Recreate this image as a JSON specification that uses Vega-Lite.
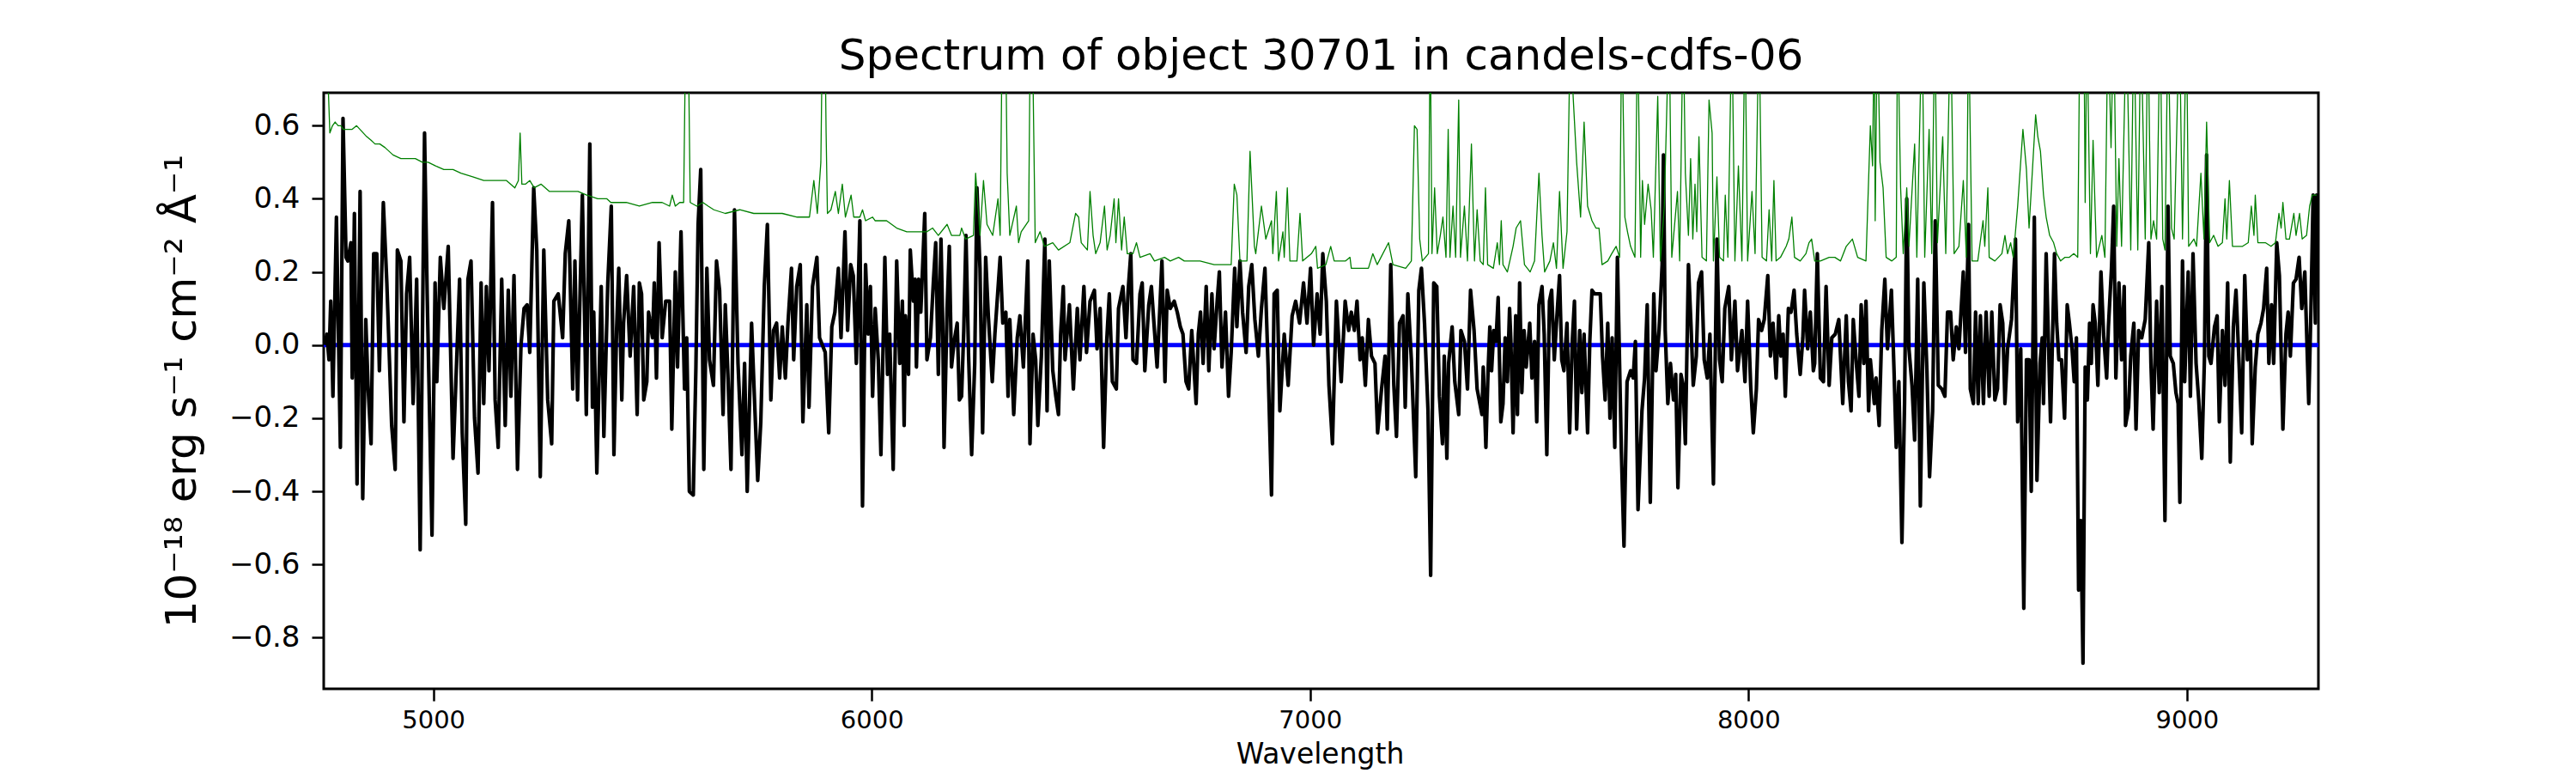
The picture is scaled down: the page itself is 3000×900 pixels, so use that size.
{
  "$schema": "https://vega.github.io/schema/vega-lite/v6.json",
  "width": 2323,
  "height": 694,
  "autosize": {"type": "none"},
  "padding": {"left": 377, "top": 108, "right": 300, "bottom": 98},
  "background": "white",
  "title": {
    "text": "Spectrum of object 30701 in candels-cdfs-06",
    "fontSize": 50,
    "font": "DejaVu Sans",
    "fontWeight": "normal",
    "color": "black",
    "anchor": "middle",
    "baseline": "alphabetic",
    "offset": 25,
    "dy": 48
  },
  "datasets": {
    "model": [{"w": 4750, "f": 0}, {"w": 9300, "f": 0}],
    "flux": [
      {"w":4753,"f":0.00},{"w":4757,"f":0.03},{"w":4762,"f":-0.04},{"w":4766,"f":0.12},{"w":4771,"f":-0.14},{"w":4779,"f":0.35},{"w":4788,"f":-0.28},{"w":4794,"f":0.62},{"w":4801,"f":0.24},{"w":4805,"f":0.23},{"w":4812,"f":0.28},{"w":4815,"f":-0.09},{"w":4820,"f":0.36},{"w":4826,"f":-0.38},{"w":4833,"f":0.42},{"w":4839,"f":-0.42},{"w":4846,"f":0.07},{"w":4851,"f":-0.11},{"w":4858,"f":-0.27},{"w":4864,"f":0.25},{"w":4871,"f":0.25},{"w":4877,"f":-0.07},{"w":4886,"f":0.39},{"w":4894,"f":0.17},{"w":4905,"f":-0.22},{"w":4913,"f":-0.34},{"w":4918,"f":0.26},{"w":4926,"f":0.23},{"w":4933,"f":-0.21},{"w":4939,"f":0.14},{"w":4946,"f":0.24},{"w":4954,"f":-0.16},{"w":4962,"f":0.18},{"w":4970,"f":-0.56},{"w":4980,"f":0.58},{"w":4986,"f":0.14},{"w":4997,"f":-0.52},{"w":5004,"f":0.17},{"w":5008,"f":-0.10},{"w":5016,"f":0.24},{"w":5024,"f":0.10},{"w":5034,"f":0.27},{"w":5045,"f":-0.31},{"w":5053,"f":-0.05},{"w":5060,"f":0.18},{"w":5066,"f":-0.24},{"w":5074,"f":-0.49},{"w":5079,"f":0.18},{"w":5086,"f":0.23},{"w":5094,"f":-0.20},{"w":5102,"f":-0.35},{"w":5109,"f":0.17},{"w":5115,"f":-0.16},{"w":5121,"f":0.16},{"w":5127,"f":-0.07},{"w":5135,"f":0.39},{"w":5141,"f":-0.15},{"w":5148,"f":-0.28},{"w":5156,"f":0.18},{"w":5164,"f":-0.22},{"w":5171,"f":0.15},{"w":5177,"f":-0.14},{"w":5184,"f":0.19},{"w":5192,"f":-0.34},{"w":5200,"f":0.00},{"w":5207,"f":0.10},{"w":5214,"f":0.11},{"w":5220,"f":-0.02},{"w":5229,"f":0.43},{"w":5236,"f":0.26},{"w":5244,"f":-0.36},{"w":5252,"f":0.26},{"w":5261,"f":-0.15},{"w":5270,"f":-0.27},{"w":5275,"f":0.12},{"w":5285,"f":0.14},{"w":5295,"f":0.02},{"w":5301,"f":0.25},{"w":5309,"f":0.34},{"w":5318,"f":-0.12},{"w":5323,"f":0.23},{"w":5329,"f":-0.15},{"w":5340,"f":0.41},{"w":5349,"f":-0.19},{"w":5357,"f":0.55},{"w":5363,"f":-0.17},{"w":5366,"f":0.09},{"w":5373,"f":-0.35},{"w":5383,"f":0.16},{"w":5389,"f":-0.25},{"w":5398,"f":0.17},{"w":5406,"f":0.38},{"w":5412,"f":-0.30},
      {"w":5418,"f":0.04},{"w":5423,"f":0.21},{"w":5430,"f":-0.15},{"w":5434,"f":0.06},{"w":5441,"f":0.19},{"w":5449,"f":-0.03},{"w":5457,"f":0.16},{"w":5465,"f":-0.19},{"w":5470,"f":0.17},{"w":5475,"f":0.14},{"w":5480,"f":-0.15},{"w":5487,"f":-0.10},{"w":5491,"f":0.09},{"w":5500,"f":0.02},{"w":5504,"f":0.17},{"w":5509,"f":-0.09},{"w":5515,"f":0.28},{"w":5522,"f":0.02},{"w":5530,"f":0.12},{"w":5539,"f":0.12},{"w":5544,"f":-0.23},{"w":5552,"f":0.20},{"w":5557,"f":-0.06},{"w":5565,"f":0.31},{"w":5573,"f":-0.12},{"w":5578,"f":0.02},{"w":5584,"f":-0.40},{"w":5593,"f":-0.41},{"w":5599,"f":-0.06},{"w":5604,"f":0.33},{"w":5610,"f":0.48},{"w":5617,"f":-0.34},{"w":5624,"f":0.21},{"w":5630,"f":-0.04},{"w":5639,"f":-0.11},{"w":5646,"f":0.23},{"w":5653,"f":0.15},{"w":5661,"f":-0.19},{"w":5666,"f":0.11},{"w":5672,"f":-0.08},{"w":5679,"f":-0.34},{"w":5687,"f":0.37},{"w":5695,"f":-0.05},{"w":5704,"f":-0.30},{"w":5710,"f":-0.05},{"w":5716,"f":-0.40},{"w":5726,"f":0.06},{"w":5733,"f":-0.16},{"w":5740,"f":-0.37},{"w":5747,"f":-0.21},{"w":5755,"f":0.16},{"w":5762,"f":0.33},{"w":5770,"f":-0.15},{"w":5776,"f":0.04},{"w":5783,"f":0.06},{"w":5790,"f":-0.09},{"w":5796,"f":0.05},{"w":5803,"f":-0.09},{"w":5809,"f":0.06},{"w":5817,"f":0.21},{"w":5822,"f":-0.04},{"w":5829,"f":0.16},{"w":5837,"f":0.22},{"w":5843,"f":-0.21},{"w":5852,"f":0.11},{"w":5857,"f":-0.17},{"w":5865,"f":0.16},{"w":5875,"f":0.24},{"w":5881,"f":0.02},{"w":5894,"f":-0.02},{"w":5902,"f":-0.24},{"w":5909,"f":0.05},{"w":5916,"f":0.09},{"w":5924,"f":0.21},{"w":5930,"f":0.02},{"w":5939,"f":0.31},{"w":5945,"f":0.04},{"w":5952,"f":0.22},{"w":5958,"f":0.19},{"w":5965,"f":-0.05},{"w":5973,"f":0.34},{"w":5979,"f":-0.44},{"w":5986,"f":0.22},{"w":5992,"f":0.03},{"w":5997,"f":0.16},{"w":6002,"f":-0.14},{"w":6008,"f":0.10},{"w":6015,"f":-0.04},{"w":6021,"f":-0.30},{"w":6030,"f":0.24},{"w":6036,"f":-0.08},{"w":6041,"f":0.03},{"w":6049,"f":-0.34},{"w":6057,"f":0.23},{"w":6064,"f":-0.05},{"w":6070,"f":0.12},{"w":6074,"f":-0.22},
      {"w":6077,"f":0.08},{"w":6084,"f":-0.08},{"w":6088,"f":0.26},{"w":6095,"f":0.12},{"w":6099,"f":0.18},{"w":6102,"f":-0.06},{"w":6107,"f":0.18},{"w":6112,"f":0.09},{"w":6121,"f":0.36},{"w":6126,"f":-0.04},{"w":6134,"f":0.02},{"w":6141,"f":0.18},{"w":6146,"f":0.28},{"w":6152,"f":-0.08},{"w":6158,"f":0.29},{"w":6162,"f":0.06},{"w":6165,"f":-0.28},{"w":6172,"f":0.10},{"w":6177,"f":0.27},{"w":6182,"f":-0.06},{"w":6188,"f":0.01},{"w":6195,"f":0.06},{"w":6200,"f":-0.15},{"w":6205,"f":-0.14},{"w":6210,"f":0.04},{"w":6215,"f":0.30},{"w":6221,"f":-0.03},{"w":6228,"f":-0.30},{"w":6235,"f":-0.05},{"w":6240,"f":0.43},{"w":6247,"f":0.21},{"w":6253,"f":-0.24},{"w":6260,"f":0.24},{"w":6266,"f":0.08},{"w":6275,"f":-0.10},{"w":6281,"f":0.03},{"w":6293,"f":0.24},{"w":6299,"f":0.06},{"w":6306,"f":0.09},{"w":6311,"f":-0.14},{"w":6315,"f":0.07},{"w":6324,"f":-0.19},{"w":6332,"f":0.02},{"w":6338,"f":0.08},{"w":6346,"f":-0.06},{"w":6356,"f":0.23},{"w":6361,"f":-0.27},{"w":6368,"f":0.03},{"w":6374,"f":-0.04},{"w":6379,"f":-0.22},{"w":6387,"f":-0.03},{"w":6395,"f":0.29},{"w":6400,"f":-0.18},{"w":6405,"f":0.23},{"w":6413,"f":-0.07},{"w":6420,"f":-0.14},{"w":6426,"f":-0.19},{"w":6431,"f":0.03},{"w":6437,"f":0.16},{"w":6441,"f":-0.04},{"w":6451,"f":0.11},{"w":6460,"f":-0.12},{"w":6469,"f":0.10},{"w":6475,"f":-0.04},{"w":6484,"f":0.16},{"w":6490,"f":-0.02},{"w":6498,"f":0.12},{"w":6508,"f":0.15},{"w":6514,"f":-0.01},{"w":6521,"f":0.10},{"w":6529,"f":-0.28},{"w":6536,"f":0.01},{"w":6542,"f":0.14},{"w":6549,"f":-0.10},{"w":6558,"f":-0.12},{"w":6563,"f":0.10},{"w":6573,"f":0.16},{"w":6580,"f":0.02},{"w":6585,"f":0.15},{"w":6591,"f":0.25},{"w":6596,"f":-0.04},{"w":6604,"f":-0.05},{"w":6612,"f":0.14},{"w":6617,"f":0.17},{"w":6623,"f":-0.07},{"w":6632,"f":0.11},{"w":6638,"f":0.16},{"w":6645,"f":0.04},{"w":6651,"f":-0.06},{"w":6658,"f":0.12},{"w":6662,"f":0.23},{"w":6669,"f":-0.10},{"w":6674,"f":0.15},{"w":6681,"f":0.10},{"w":6690,"f":0.12},{"w":6697,"f":0.09},{"w":6704,"f":0.05},{"w":6710,"f":0.03},{"w":6717,"f":-0.10},{"w":6723,"f":-0.12},{"w":6730,"f":0.04},
      {"w":6740,"f":-0.16},{"w":6745,"f":0.03},{"w":6750,"f":0.09},{"w":6756,"f":-0.05},{"w":6763,"f":0.16},{"w":6769,"f":-0.07},{"w":6776,"f":0.14},{"w":6781,"f":-0.01},{"w":6788,"f":0.12},{"w":6793,"f":0.20},{"w":6799,"f":-0.06},{"w":6807,"f":0.09},{"w":6814,"f":-0.14},{"w":6820,"f":-0.02},{"w":6828,"f":0.21},{"w":6833,"f":0.05},{"w":6840,"f":0.23},{"w":6846,"f":0.09},{"w":6854,"f":-0.02},{"w":6860,"f":0.16},{"w":6867,"f":0.22},{"w":6874,"f":0.07},{"w":6882,"f":-0.03},{"w":6889,"f":0.10},{"w":6897,"f":0.21},{"w":6904,"f":-0.05},{"w":6912,"f":-0.41},{"w":6918,"f":0.14},{"w":6925,"f":0.15},{"w":6931,"f":-0.18},{"w":6941,"f":0.03},{"w":6950,"f":-0.11},{"w":6959,"f":0.08},{"w":6967,"f":0.12},{"w":6976,"f":0.06},{"w":6985,"f":0.17},{"w":6993,"f":0.06},{"w":7001,"f":0.21},{"w":7008,"f":0.00},{"w":7016,"f":0.14},{"w":7023,"f":0.03},{"w":7029,"f":0.25},{"w":7037,"f":0.12},{"w":7043,"f":-0.11},{"w":7051,"f":-0.27},{"w":7060,"f":0.12},{"w":7071,"f":-0.10},{"w":7080,"f":0.12},{"w":7088,"f":0.04},{"w":7094,"f":0.09},{"w":7101,"f":0.04},{"w":7107,"f":0.12},{"w":7114,"f":-0.04},{"w":7119,"f":0.02},{"w":7126,"f":-0.11},{"w":7133,"f":0.07},{"w":7140,"f":-0.03},{"w":7148,"f":-0.05},{"w":7154,"f":-0.24},{"w":7163,"f":-0.12},{"w":7171,"f":-0.03},{"w":7176,"f":-0.23},{"w":7184,"f":0.22},{"w":7191,"f":-0.11},{"w":7197,"f":-0.25},{"w":7204,"f":0.06},{"w":7212,"f":0.08},{"w":7217,"f":-0.17},{"w":7223,"f":0.14},{"w":7231,"f":-0.04},{"w":7241,"f":-0.36},{"w":7248,"f":0.15},{"w":7254,"f":0.21},{"w":7261,"f":0.06},{"w":7269,"f":-0.18},{"w":7275,"f":-0.63},{"w":7282,"f":0.17},{"w":7289,"f":0.16},{"w":7295,"f":-0.14},{"w":7302,"f":-0.27},{"w":7306,"f":-0.03},{"w":7312,"f":-0.31},{"w":7316,"f":-0.05},{"w":7324,"f":0.05},{"w":7330,"f":-0.10},{"w":7339,"f":-0.19},{"w":7344,"f":0.04},{"w":7352,"f":0.01},{"w":7359,"f":-0.12},{"w":7366,"f":0.15},{"w":7374,"f":0.04},{"w":7381,"f":-0.12},
      {"w":7392,"f":-0.19},{"w":7395,"f":-0.06},{"w":7401,"f":-0.28},{"w":7406,"f":-0.07},{"w":7410,"f":0.05},{"w":7414,"f":-0.07},{"w":7419,"f":0.04},{"w":7424,"f":0.01},{"w":7429,"f":0.13},{"w":7435,"f":-0.21},{"w":7440,"f":-0.16},{"w":7445,"f":0.02},{"w":7450,"f":-0.10},{"w":7455,"f":0.10},{"w":7458,"f":0.01},{"w":7463,"f":-0.24},{"w":7469,"f":0.08},{"w":7473,"f":-0.19},{"w":7478,"f":0.17},{"w":7483,"f":-0.13},{"w":7488,"f":0.04},{"w":7493,"f":-0.06},{"w":7501,"f":0.06},{"w":7506,"f":-0.09},{"w":7512,"f":0.01},{"w":7517,"f":-0.21},{"w":7522,"f":0.11},{"w":7529,"f":0.16},{"w":7534,"f":0.03},{"w":7540,"f":-0.30},{"w":7546,"f":0.12},{"w":7551,"f":0.15},{"w":7557,"f":-0.04},{"w":7562,"f":0.06},{"w":7569,"f":0.19},{"w":7574,"f":-0.04},{"w":7579,"f":-0.07},{"w":7586,"f":0.06},{"w":7592,"f":-0.24},{"w":7598,"f":0.01},{"w":7603,"f":0.12},{"w":7608,"f":-0.23},{"w":7615,"f":0.04},{"w":7620,"f":-0.13},{"w":7625,"f":0.03},{"w":7633,"f":-0.24},{"w":7638,"f":0.01},{"w":7643,"f":0.15},{"w":7649,"f":0.14},{"w":7656,"f":0.14},{"w":7662,"f":0.14},{"w":7667,"f":-0.03},{"w":7673,"f":-0.15},{"w":7679,"f":0.06},{"w":7684,"f":-0.20},{"w":7689,"f":0.02},{"w":7695,"f":-0.28},{"w":7701,"f":0.24},{"w":7710,"f":-0.29},{"w":7716,"f":-0.55},{"w":7723,"f":-0.10},{"w":7731,"f":-0.07},{"w":7737,"f":-0.09},{"w":7742,"f":0.01},{"w":7748,"f":-0.45},{"w":7757,"f":-0.18},{"w":7763,"f":-0.09},{"w":7769,"f":0.11},{"w":7776,"f":-0.43},{"w":7784,"f":0.14},{"w":7789,"f":-0.07},{"w":7796,"f":0.04},{"w":7803,"f":0.22},{"w":7806,"f":0.52},{"w":7810,"f":0.04},{"w":7816,"f":-0.16},{"w":7822,"f":-0.05},{"w":7829,"f":-0.15},{"w":7834,"f":-0.08},{"w":7839,"f":-0.39},{"w":7846,"f":-0.08},{"w":7851,"f":-0.11},{"w":7856,"f":-0.27},{"w":7863,"f":0.22},{"w":7869,"f":0.05},{"w":7874,"f":-0.11},{"w":7881,"f":-0.03},{"w":7886,"f":0.17},{"w":7893,"f":0.20},{"w":7899,"f":-0.04},{"w":7906,"f":-0.09},{"w":7912,"f":0.03},{"w":7920,"f":-0.38},{"w":7928,"f":0.29},{"w":7934,"f":-0.04},{"w":7940,"f":-0.10},{"w":7946,"f":0.10},{"w":7955,"f":0.16},{"w":7961,"f":-0.04},{"w":7969,"f":0.12},{"w":7975,"f":-0.07},{"w":7985,"f":0.04},{"w":7992,"f":-0.10},{"w":7998,"f":0.12},{"w":8005,"f":-0.11},{"w":8011,"f":-0.24},{"w":8018,"f":-0.12},{"w":8023,"f":0.07},{"w":8030,"f":0.04},{"w":8036,"f":0.07},{"w":8044,"f":0.19},
      {"w":8050,"f":-0.03},{"w":8056,"f":0.06},{"w":8063,"f":-0.09},{"w":8069,"f":0.08},{"w":8074,"f":-0.03},{"w":8079,"f":0.03},{"w":8084,"f":-0.14},{"w":8091,"f":0.10},{"w":8097,"f":0.09},{"w":8104,"f":0.15},{"w":8110,"f":0.03},{"w":8118,"f":-0.08},{"w":8124,"f":0.02},{"w":8128,"f":0.15},{"w":8135,"f":-0.01},{"w":8141,"f":0.09},{"w":8148,"f":-0.07},{"w":8151,"f":-0.05},{"w":8157,"f":0.25},{"w":8164,"f":-0.09},{"w":8171,"f":-0.10},{"w":8177,"f":0.16},{"w":8184,"f":-0.11},{"w":8190,"f":0.02},{"w":8198,"f":0.03},{"w":8206,"f":0.07},{"w":8215,"f":-0.16},{"w":8223,"f":0.08},{"w":8228,"f":-0.10},{"w":8234,"f":-0.18},{"w":8239,"f":0.07},{"w":8246,"f":-0.05},{"w":8252,"f":-0.14},{"w":8257,"f":0.11},{"w":8263,"f":-0.05},{"w":8268,"f":0.12},{"w":8274,"f":-0.18},{"w":8278,"f":-0.04},{"w":8287,"f":-0.16},{"w":8291,"f":-0.09},{"w":8298,"f":-0.22},{"w":8304,"f":0.04},{"w":8311,"f":0.18},{"w":8317,"f":-0.01},{"w":8326,"f":0.15},{"w":8332,"f":-0.07},{"w":8337,"f":-0.28},{"w":8343,"f":-0.10},{"w":8350,"f":-0.54},{"w":8356,"f":-0.16},{"w":8361,"f":0.40},{"w":8366,"f":-0.01},{"w":8373,"f":-0.11},{"w":8379,"f":-0.26},{"w":8386,"f":0.18},{"w":8392,"f":-0.44},{"w":8400,"f":0.17},{"w":8407,"f":-0.07},{"w":8413,"f":-0.36},{"w":8420,"f":-0.18},{"w":8426,"f":0.34},{"w":8433,"f":-0.11},{"w":8441,"f":-0.12},{"w":8448,"f":-0.14},{"w":8454,"f":0.09},{"w":8461,"f":0.09},{"w":8467,"f":-0.04},{"w":8474,"f":0.05},{"w":8480,"f":-0.01},{"w":8490,"f":0.20},{"w":8495,"f":-0.02},{"w":8502,"f":0.33},{"w":8506,"f":-0.12},{"w":8513,"f":-0.16},{"w":8518,"f":0.09},{"w":8524,"f":-0.16},{"w":8529,"f":0.08},{"w":8536,"f":-0.16},{"w":8542,"f":0.09},{"w":8549,"f":-0.14},{"w":8555,"f":0.09},{"w":8562,"f":-0.15},{"w":8568,"f":-0.12},{"w":8574,"f":0.11},{"w":8580,"f":0.06},{"w":8585,"f":-0.16},{"w":8591,"f":-0.01},{"w":8600,"f":0.07},{"w":8609,"f":0.29},{"w":8614,"f":-0.21},{"w":8621,"f":-0.01},{"w":8628,"f":-0.72},{"w":8634,"f":-0.04},{"w":8640,"f":-0.04},{"w":8645,"f":-0.40},{"w":8652,"f":0.35},{"w":8658,"f":-0.37},{"w":8665,"f":-0.05},{"w":8670,"f":0.02},{"w":8673,"f":-0.16},{"w":8679,"f":0.25},{"w":8689,"f":-0.21},{"w":8698,"f":0.25},
      {"w":8703,"f":0.06},{"w":8708,"f":-0.04},{"w":8714,"f":-0.04},{"w":8721,"f":-0.20},{"w":8727,"f":0.11},{"w":8732,"f":0.06},{"w":8738,"f":-0.01},{"w":8743,"f":-0.10},{"w":8748,"f":0.02},{"w":8753,"f":-0.67},{"w":8758,"f":-0.48},{"w":8763,"f":-0.87},{"w":8768,"f":-0.06},{"w":8773,"f":-0.15},{"w":8778,"f":0.06},{"w":8782,"f":-0.05},{"w":8786,"f":0.11},{"w":8791,"f":0.06},{"w":8797,"f":-0.11},{"w":8804,"f":0.20},{"w":8810,"f":0.03},{"w":8817,"f":-0.09},{"w":8821,"f":0.05},{"w":8828,"f":0.21},{"w":8833,"f":0.38},{"w":8838,"f":-0.09},{"w":8845,"f":0.17},{"w":8851,"f":-0.04},{"w":8857,"f":0.16},{"w":8860,"f":-0.22},{"w":8867,"f":-0.17},{"w":8872,"f":-0.03},{"w":8879,"f":0.06},{"w":8884,"f":-0.23},{"w":8890,"f":0.04},{"w":8897,"f":0.02},{"w":8905,"f":0.07},{"w":8913,"f":0.28},{"w":8918,"f":-0.05},{"w":8923,"f":-0.23},{"w":8931,"f":0.12},{"w":8937,"f":-0.13},{"w":8943,"f":0.16},{"w":8950,"f":-0.48},{"w":8957,"f":0.38},{"w":8962,"f":-0.03},{"w":8969,"f":-0.05},{"w":8975,"f":-0.13},{"w":8980,"f":-0.16},{"w":8984,"f":-0.43},{"w":8990,"f":0.23},{"w":8995,"f":-0.10},{"w":9003,"f":0.20},{"w":9008,"f":-0.14},{"w":9014,"f":0.25},{"w":9021,"f":-0.05},{"w":9027,"f":-0.15},{"w":9034,"f":-0.31},{"w":9040,"f":-0.04},{"w":9045,"f":0.52},{"w":9050,"f":-0.03},{"w":9055,"f":-0.05},{"w":9063,"f":0.05},{"w":9069,"f":0.08},{"w":9074,"f":-0.21},{"w":9081,"f":0.04},{"w":9087,"f":-0.11},{"w":9093,"f":0.17},{"w":9099,"f":-0.32},{"w":9106,"f":0.05},{"w":9112,"f":0.15},{"w":9119,"f":-0.05},{"w":9125,"f":-0.24},{"w":9132,"f":0.19},{"w":9138,"f":-0.04},{"w":9145,"f":0.01},{"w":9149,"f":-0.27},{"w":9156,"f":-0.06},{"w":9162,"f":0.03},{"w":9169,"f":0.06},{"w":9175,"f":0.10},{"w":9182,"f":0.21},{"w":9187,"f":-0.05},{"w":9193,"f":0.11},{"w":9198,"f":-0.05},{"w":9205,"f":0.28},{"w":9211,"f":0.19},{"w":9219,"f":-0.23},{"w":9226,"f":0.03},{"w":9231,"f":0.09},{"w":9236,"f":-0.03},{"w":9243,"f":0.17},{"w":9249,"f":0.18},{"w":9256,"f":0.24},{"w":9262,"f":0.10},{"w":9269,"f":0.20},{"w":9278,"f":-0.16},{"w":9283,"f":0.10},{"w":9288,"f":0.41},{"w":9293,"f":0.06},{"w":9296,"f":0.41},{"w":9299,"f":0.28}
    ],
    "err": [
      {"w":4753,"f":0.9},{"w":4759,"f":0.75},{"w":4764,"f":0.58},{"w":4770,"f":0.60},{"w":4776,"f":0.61},{"w":4783,"f":0.60},{"w":4789,"f":0.60},{"w":4795,"f":0.59},{"w":4815,"f":0.59},{"w":4825,"f":0.60},{"w":4848,"f":0.57},{"w":4858,"f":0.56},{"w":4867,"f":0.55},{"w":4878,"f":0.55},{"w":4890,"f":0.54},{"w":4908,"f":0.52},{"w":4926,"f":0.51},{"w":4942,"f":0.51},{"w":4959,"f":0.51},{"w":4975,"f":0.50},{"w":4988,"f":0.50},{"w":5005,"f":0.49},{"w":5024,"f":0.48},{"w":5045,"f":0.48},{"w":5063,"f":0.47},{"w":5090,"f":0.46},{"w":5115,"f":0.45},{"w":5140,"f":0.45},{"w":5167,"f":0.45},{"w":5186,"f":0.43},{"w":5194,"f":0.45},{"w":5198,"f":0.58},{"w":5202,"f":0.44},{"w":5210,"f":0.44},{"w":5220,"f":0.45},{"w":5230,"f":0.43},{"w":5246,"f":0.44},{"w":5265,"f":0.42},{"w":5285,"f":0.42},{"w":5310,"f":0.42},{"w":5330,"f":0.42},{"w":5350,"f":0.41},{"w":5375,"f":0.40},{"w":5396,"f":0.40},
      {"w":5405,"f":0.39},{"w":5440,"f":0.39},{"w":5470,"f":0.38},{"w":5500,"f":0.39},{"w":5522,"f":0.39},{"w":5539,"f":0.38},{"w":5545,"f":0.41},{"w":5552,"f":0.38},{"w":5562,"f":0.39},{"w":5571,"f":0.39},{"w":5576,"f":0.9},{"w":5581,"f":0.9},{"w":5586,"f":0.39},{"w":5601,"f":0.38},{"w":5615,"f":0.39},{"w":5627,"f":0.38},{"w":5640,"f":0.37},{"w":5666,"f":0.36},{"w":5699,"f":0.37},{"w":5731,"f":0.36},{"w":5765,"f":0.36},{"w":5796,"f":0.36},{"w":5830,"f":0.35},{"w":5858,"f":0.35},{"w":5863,"f":0.40},{"w":5868,"f":0.45},{"w":5876,"f":0.36},{"w":5884,"f":0.5},{"w":5888,"f":0.9},{"w":5893,"f":0.9},{"w":5896,"f":0.58},{"w":5899,"f":0.36},{"w":5907,"f":0.37},{"w":5917,"f":0.42},{"w":5924,"f":0.36},{"w":5933,"f":0.44},{"w":5940,"f":0.35},{"w":5953,"f":0.41},{"w":5959,"f":0.35},{"w":5973,"f":0.35},{"w":5979,"f":0.37},{"w":5986,"f":0.34},{"w":6002,"f":0.35},{"w":6008,"f":0.34},{"w":6034,"f":0.34},{"w":6057,"f":0.32},
      {"w":6080,"f":0.31},{"w":6100,"f":0.31},{"w":6126,"f":0.31},{"w":6139,"f":0.32},{"w":6152,"f":0.30},{"w":6172,"f":0.33},{"w":6182,"f":0.30},{"w":6201,"f":0.30},{"w":6205,"f":0.32},{"w":6214,"f":0.29},{"w":6232,"f":0.30},{"w":6237,"f":0.47},{"w":6247,"f":0.30},{"w":6255,"f":0.45},{"w":6263,"f":0.33},{"w":6276,"f":0.30},{"w":6288,"f":0.40},{"w":6293,"f":0.30},{"w":6298,"f":0.9},{"w":6305,"f":0.9},{"w":6309,"f":0.47},{"w":6315,"f":0.30},{"w":6330,"f":0.38},{"w":6335,"f":0.28},{"w":6341,"f":0.31},{"w":6358,"f":0.34},{"w":6362,"f":0.9},{"w":6366,"f":0.9},{"w":6373,"f":0.28},{"w":6384,"f":0.31},{"w":6394,"f":0.27},{"w":6413,"f":0.28},{"w":6426,"f":0.26},{"w":6452,"f":0.28},{"w":6465,"f":0.36},{"w":6472,"f":0.35},{"w":6478,"f":0.28},{"w":6492,"f":0.26},{"w":6498,"f":0.42},{"w":6505,"f":0.30},{"w":6511,"f":0.25},{"w":6521,"f":0.28},{"w":6531,"f":0.38},{"w":6537,"f":0.26},{"w":6544,"f":0.30},{"w":6553,"f":0.40},{"w":6557,"f":0.28},{"w":6563,"f":0.40},{"w":6570,"f":0.26},{"w":6576,"f":0.35},{"w":6583,"f":0.25},{"w":6596,"f":0.25},{"w":6604,"f":0.28},{"w":6612,"f":0.24},{"w":6635,"f":0.25},{"w":6645,"f":0.23},{"w":6668,"f":0.24},{"w":6681,"f":0.23},{"w":6700,"f":0.24},{"w":6713,"f":0.23},
      {"w":6749,"f":0.23},{"w":6781,"f":0.22},{"w":6820,"f":0.22},{"w":6827,"f":0.44},{"w":6833,"f":0.41},{"w":6840,"f":0.23},{"w":6856,"f":0.23},{"w":6863,"f":0.53},{"w":6873,"f":0.27},{"w":6876,"f":0.25},{"w":6889,"f":0.38},{"w":6899,"f":0.29},{"w":6912,"f":0.34},{"w":6915,"f":0.25},{"w":6923,"f":0.42},{"w":6928,"f":0.23},{"w":6938,"f":0.31},{"w":6941,"f":0.24},{"w":6948,"f":0.43},{"w":6954,"f":0.23},{"w":6970,"f":0.23},{"w":6977,"f":0.36},{"w":6983,"f":0.23},{"w":7003,"f":0.25},{"w":7013,"f":0.27},{"w":7017,"f":0.21},{"w":7036,"f":0.22},{"w":7047,"f":0.27},{"w":7055,"f":0.23},{"w":7081,"f":0.23},{"w":7091,"f":0.24},{"w":7094,"f":0.21},{"w":7133,"f":0.21},{"w":7143,"f":0.25},{"w":7153,"f":0.22},{"w":7179,"f":0.28},{"w":7189,"f":0.22},{"w":7218,"f":0.21},{"w":7231,"f":0.23},{"w":7238,"f":0.60},{"w":7244,"f":0.59},{"w":7250,"f":0.29},{"w":7256,"f":0.23},{"w":7270,"f":0.25},{"w":7274,"f":0.9},{"w":7278,"f":0.25},{"w":7284,"f":0.43},{"w":7290,"f":0.25},{"w":7297,"f":0.30},{"w":7303,"f":0.35},{"w":7310,"f":0.24},{"w":7315,"f":0.59},{"w":7319,"f":0.24},{"w":7326,"f":0.38},{"w":7332,"f":0.24},{"w":7339,"f":0.67},{"w":7343,"f":0.24},{"w":7352,"f":0.38},{"w":7359,"f":0.23},{"w":7368,"f":0.55},{"w":7375,"f":0.23},{"w":7381,"f":0.37},{"w":7388,"f":0.23},
      {"w":7395,"f":0.22},{"w":7400,"f":0.43},{"w":7405,"f":0.22},{"w":7418,"f":0.21},{"w":7427,"f":0.28},{"w":7432,"f":0.22},{"w":7436,"f":0.34},{"w":7440,"f":0.22},{"w":7450,"f":0.20},{"w":7463,"f":0.27},{"w":7470,"f":0.32},{"w":7480,"f":0.34},{"w":7489,"f":0.22},{"w":7502,"f":0.20},{"w":7512,"f":0.23},{"w":7522,"f":0.47},{"w":7529,"f":0.30},{"w":7535,"f":0.20},{"w":7547,"f":0.23},{"w":7555,"f":0.28},{"w":7562,"f":0.21},{"w":7569,"f":0.42},{"w":7577,"f":0.21},{"w":7586,"f":0.31},{"w":7594,"f":0.9},{"w":7600,"f":0.68},{"w":7608,"f":0.50},{"w":7617,"f":0.35},{"w":7625,"f":0.61},{"w":7633,"f":0.38},{"w":7643,"f":0.34},{"w":7652,"f":0.32},{"w":7659,"f":0.32},{"w":7666,"f":0.22},{"w":7679,"f":0.23},{"w":7688,"f":0.25},{"w":7698,"f":0.27},{"w":7706,"f":0.24},{"w":7711,"f":0.9},{"w":7718,"f":0.35},{"w":7724,"f":0.31},{"w":7731,"f":0.27},{"w":7741,"f":0.24},{"w":7747,"f":0.9},{"w":7754,"f":0.24},{"w":7758,"f":0.45},{"w":7763,"f":0.33},{"w":7771,"f":0.44},{"w":7778,"f":0.37},{"w":7783,"f":0.24},{"w":7793,"f":0.68},{"w":7799,"f":0.23},{"w":7808,"f":0.38},{"w":7819,"f":0.9},{"w":7825,"f":0.24},{"w":7838,"f":0.42},{"w":7843,"f":0.23},{"w":7851,"f":0.9},{"w":7856,"f":0.47},{"w":7863,"f":0.30},{"w":7868,"f":0.51},{"w":7873,"f":0.29},{"w":7878,"f":0.44},{"w":7882,"f":0.31},{"w":7887,"f":0.57},{"w":7894,"f":0.24},{"w":7904,"f":0.23},{"w":7910,"f":0.67},{"w":7917,"f":0.58},{"w":7920,"f":0.23},{"w":7928,"f":0.46},{"w":7934,"f":0.24},{"w":7943,"f":0.23},{"w":7947,"f":0.41},{"w":7953,"f":0.24},{"w":7962,"f":0.9},{"w":7969,"f":0.23},{"w":7977,"f":0.49},{"w":7985,"f":0.23},{"w":7992,"f":0.9},{"w":7998,"f":0.23},{"w":8008,"f":0.42},{"w":8015,"f":0.25},{"w":8024,"f":0.9},{"w":8031,"f":0.24},{"w":8041,"f":0.23},{"w":8047,"f":0.37},
      {"w":8053,"f":0.23},{"w":8058,"f":0.45},{"w":8063,"f":0.23},{"w":8073,"f":0.24},{"w":8086,"f":0.27},{"w":8092,"f":0.29},{"w":8099,"f":0.35},{"w":8105,"f":0.24},{"w":8118,"f":0.23},{"w":8131,"f":0.25},{"w":8138,"f":0.28},{"w":8144,"f":0.29},{"w":8151,"f":0.23},{"w":8164,"f":0.23},{"w":8184,"f":0.24},{"w":8197,"f":0.24},{"w":8210,"f":0.23},{"w":8223,"f":0.27},{"w":8237,"f":0.29},{"w":8249,"f":0.24},{"w":8268,"f":0.23},{"w":8278,"f":0.60},{"w":8283,"f":0.49},{"w":8287,"f":0.9},{"w":8289,"f":0.34},{"w":8294,"f":0.9},{"w":8300,"f":0.50},{"w":8307,"f":0.43},{"w":8314,"f":0.24},{"w":8327,"f":0.23},{"w":8337,"f":0.24},{"w":8340,"f":0.9},{"w":8347,"f":0.43},{"w":8353,"f":0.25},{"w":8361,"f":0.43},{"w":8366,"f":0.27},{"w":8379,"f":0.55},{"w":8384,"f":0.24},{"w":8396,"f":0.9},{"w":8402,"f":0.24},{"w":8412,"f":0.59},{"w":8418,"f":0.25},{"w":8425,"f":0.9},{"w":8431,"f":0.28},{"w":8443,"f":0.57},{"w":8450,"f":0.25},{"w":8461,"f":0.9},{"w":8469,"f":0.25},{"w":8480,"f":0.27},{"w":8490,"f":0.45},{"w":8497,"f":0.24},{"w":8502,"f":0.9},{"w":8510,"f":0.23},{"w":8523,"f":0.23},{"w":8535,"f":0.34},{"w":8539,"f":0.27},{"w":8546,"f":0.43},{"w":8549,"f":0.24},{"w":8562,"f":0.23},{"w":8578,"f":0.25},{"w":8585,"f":0.30},{"w":8591,"f":0.25},{"w":8598,"f":0.28},{"w":8604,"f":0.24},{"w":8614,"f":0.38},{"w":8626,"f":0.59},{"w":8634,"f":0.48},{"w":8640,"f":0.32},{"w":8655,"f":0.63},{"w":8660,"f":0.57},{"w":8666,"f":0.53},{"w":8673,"f":0.41},{"w":8679,"f":0.35},{"w":8687,"f":0.30},{"w":8696,"f":0.28},
      {"w":8703,"f":0.25},{"w":8712,"f":0.23},{"w":8722,"f":0.24},{"w":8732,"f":0.24},{"w":8742,"f":0.25},{"w":8751,"f":0.24},{"w":8756,"f":0.9},{"w":8765,"f":0.9},{"w":8768,"f":0.39},{"w":8772,"f":0.9},{"w":8780,"f":0.25},{"w":8786,"f":0.56},{"w":8794,"f":0.24},{"w":8806,"f":0.30},{"w":8813,"f":0.24},{"w":8820,"f":0.9},{"w":8827,"f":0.54},{"w":8833,"f":0.9},{"w":8840,"f":0.27},{"w":8845,"f":0.51},{"w":8851,"f":0.27},{"w":8862,"f":0.9},{"w":8872,"f":0.26},{"w":8879,"f":0.9},{"w":8888,"f":0.26},{"w":8895,"f":0.9},{"w":8905,"f":0.29},{"w":8911,"f":0.9},{"w":8918,"f":0.29},{"w":8924,"f":0.34},{"w":8931,"f":0.29},{"w":8939,"f":0.9},{"w":8945,"f":0.29},{"w":8950,"f":0.26},{"w":8957,"f":0.9},{"w":8965,"f":0.32},{"w":8971,"f":0.29},{"w":8983,"f":0.9},{"w":8990,"f":0.29},{"w":8999,"f":0.9},{"w":9004,"f":0.27},{"w":9016,"f":0.29},{"w":9022,"f":0.27},{"w":9032,"f":0.47},{"w":9039,"f":0.29},{"w":9045,"f":0.61},{"w":9052,"f":0.28},{"w":9061,"f":0.30},{"w":9071,"f":0.27},{"w":9081,"f":0.28},{"w":9087,"f":0.40},{"w":9091,"f":0.29},{"w":9097,"f":0.45},{"w":9104,"f":0.27},{"w":9114,"f":0.27},{"w":9127,"f":0.27},{"w":9140,"f":0.28},{"w":9147,"f":0.38},{"w":9153,"f":0.30},{"w":9156,"f":0.41},{"w":9162,"f":0.28},{"w":9179,"f":0.28},{"w":9192,"f":0.27},{"w":9202,"f":0.28},{"w":9210,"f":0.36},{"w":9215,"f":0.32},{"w":9219,"f":0.39},{"w":9226,"f":0.29},{"w":9234,"f":0.29},{"w":9244,"f":0.36},{"w":9249,"f":0.30},{"w":9257,"f":0.36},{"w":9263,"f":0.29},{"w":9273,"f":0.30},{"w":9280,"f":0.38},{"w":9286,"f":0.41},{"w":9296,"f":0.41}
    ]
  },
  "encoding": {
    "x": {
      "field": "w",
      "type": "quantitative",
      "scale": {"domain": [4750, 9300], "nice": false, "zero": false},
      "axis": {
        "values": [5000, 6000, 7000, 8000, 9000],
        "format": "d",
        "title": "Wavelength",
        "labelFontSize": 29,
        "labelPadding": 8,
        "titleFontSize": 33,
        "titleX": 1160,
        "titleY": 86,
        "titleBaseline": "alphabetic"
      }
    },
    "y": {
      "field": "f",
      "type": "quantitative",
      "scale": {"domain": [-0.94, 0.69], "nice": false, "zero": false},
      "axis": {
        "values": [-0.8, -0.6, -0.4, -0.2, 0, 0.2, 0.4, 0.6],
        "format": ".1f",
        "title": "10⁻¹⁸ erg s⁻¹ cm⁻² Å⁻¹",
        "labelFontSize": 34,
        "labelPadding": 14,
        "titleFontSize": 50,
        "titleX": -150,
        "titleY": 347,
        "titleAngle": 270,
        "titleAlign": "center",
        "titleBaseline": "alphabetic"
      }
    }
  },
  "layer": [
    {"data": {"name": "model"}, "mark": {"type": "line", "color": "#0000ff", "strokeWidth": 5}},
    {"data": {"name": "flux"}, "mark": {"type": "line", "color": "#000000", "strokeWidth": 4.2, "strokeJoin": "round", "clip": true}},
    {"data": {"name": "err"}, "mark": {"type": "line", "color": "#008000", "strokeWidth": 1.3, "strokeJoin": "round", "clip": true}}
  ],
  "config": {
    "font": "DejaVu Sans",
    "view": {"stroke": "#000000", "strokeWidth": 3},
    "axis": {
      "domain": false,
      "grid": false,
      "tickColor": "#000000",
      "tickWidth": 2.5,
      "tickSize": 14,
      "labelColor": "#000000",
      "labelFont": "DejaVu Sans",
      "titleFont": "DejaVu Sans",
      "titleColor": "#000000",
      "titleFontWeight": "normal"
    }
  }
}
